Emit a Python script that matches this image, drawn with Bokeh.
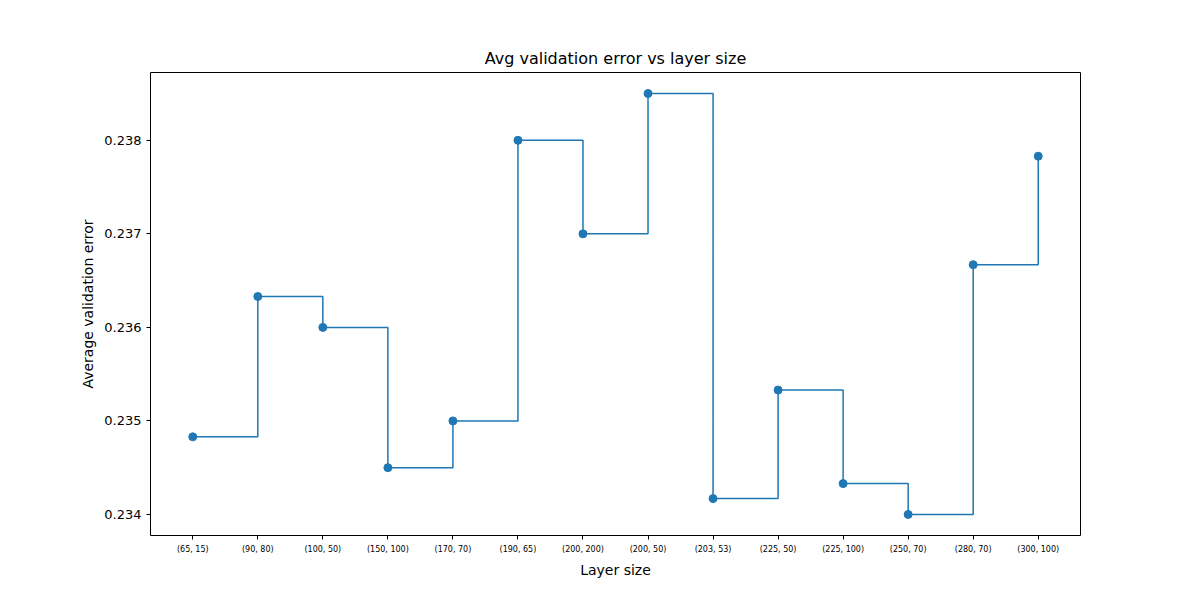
from bokeh.embed import file_html
from bokeh.models import FixedTicker, Range1d
from bokeh.plotting import figure
from bokeh.resources import INLINE

layer_sizes = ["(65, 15)", "(90, 80)", "(100, 50)", "(150, 100)", "(170, 70)",
               "(190, 65)", "(200, 200)", "(200, 50)", "(203, 53)", "(225, 50)",
               "(225, 100)", "(250, 70)", "(280, 70)", "(300, 100)"]
avg_errors = [0.23483, 0.23633, 0.2360, 0.2345, 0.2350, 0.2380, 0.2370,
              0.2385, 0.23417, 0.23533, 0.23433, 0.2340, 0.23667, 0.23783]

xs = list(range(len(layer_sizes)))
color = "#1f77b4"

p = figure(width=1184, height=584, output_backend="svg", toolbar_location=None,
           title="Avg validation error vs layer size",
           x_range=Range1d(-0.65, 13.65), y_range=Range1d(0.233775, 0.238725),
           min_border_left=150, min_border_right=104,
           min_border_top=72, min_border_bottom=49)

p.step(xs, avg_errors, mode="after", line_color=color, line_width=1.5)
p.scatter(xs, avg_errors, size=8, color=color)

p.title.align = "center"
p.title.text_font = "DejaVu Sans"
p.title.text_font_size = "16px"
p.title.text_font_style = "normal"
p.title.text_color = "black"

p.xaxis.ticker = FixedTicker(ticks=xs)
p.xaxis.major_label_overrides = {i: s for i, s in enumerate(layer_sizes)}
p.xaxis.major_label_text_font_size = "8px"
p.xaxis.axis_label = "Layer size"
p.yaxis.axis_label = "Average validation error"
p.yaxis.ticker = FixedTicker(ticks=[0.234, 0.235, 0.236, 0.237, 0.238])
p.yaxis.major_label_text_font_size = "13px"

for ax in [p.xaxis, p.yaxis]:
    ax.axis_label_text_font = "DejaVu Sans"
    ax.axis_label_text_font_style = "normal"
    ax.axis_label_text_font_size = "14px"
    ax.axis_label_text_color = "black"
    ax.major_label_text_font = "DejaVu Sans"
    ax.major_label_text_color = "black"
    ax.minor_tick_line_color = None
    ax.major_tick_line_color = "black"
    ax.major_tick_in = 0
    ax.major_tick_out = 4
    ax.axis_line_color = None

p.grid.grid_line_color = None
p.outline_line_color = "black"
p.outline_line_alpha = 1.0

open("out.html", "w").write(file_html(p, INLINE))
